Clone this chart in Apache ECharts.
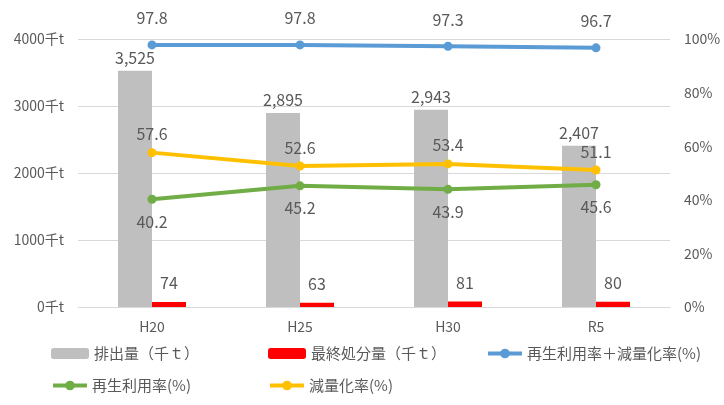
<!DOCTYPE html>
<html><head><meta charset="utf-8">
<script src="https://cdn.jsdelivr.net/npm/echarts@6/dist/echarts.min.js"></script>
<style>html,body{margin:0;padding:0;background:#fff}#c{width:724px;height:405px}</style>
</head><body><div id="c"></div>
<script>
const categories = ['H20', 'H25', 'H30', 'R5'];
const emissions = [3525, 2895, 2943, 2407];
const finalDisposal = [74, 63, 81, 80];
const recycleReduceRate = [97.8, 97.8, 97.3, 96.7];
const recycleRate = [40.2, 45.2, 43.9, 45.6];
const reduceRate = [57.6, 52.6, 53.4, 51.1];
const leftTicks = [0, 1000, 2000, 3000, 4000];
const rightTicks = [0, 20, 40, 60, 80, 100];

const FONT = "'Liberation Sans Narrow', 'Noto Sans CJK JP', sans-serif";
const TXT = '#595959';
const names = ['排出量（千ｔ）', '最終処分量（千ｔ）', '再生利用率＋減量化率(%)', '再生利用率(%)', '減量化率(%)'];
const lbl = (extra) => Object.assign({show: true, color: TXT, fontSize: 16, fontFamily: FONT}, extra);

const chart = echarts.init(document.getElementById('c'));
const legendPos = [[46, 341], [263, 341], [481, 341], [46, 373], [263, 373]];
chart.setOption({
  animation: false,
  grid: {left: 78, right: 54, top: 39, bottom: 98},
  legend: names.map((n, i) => ({
    data: [n], left: legendPos[i][0], top: legendPos[i][1],
    itemWidth: i < 2 ? 38 : 34, itemHeight: i < 2 ? 11 : 12, itemGap: 4,
    lineStyle: {width: 4},
    textStyle: {color: TXT, fontSize: 15, fontFamily: "'Noto Sans CJK JP', sans-serif"}
  })),
  xAxis: {
    type: 'category', data: categories,
    axisLine: {lineStyle: {color: '#d9d9d9'}}, axisTick: {show: false},
    axisLabel: {color: TXT, fontSize: 14, fontFamily: FONT, margin: 13}
  },
  yAxis: [
    {type: 'value', min: 0, max: 4000, interval: 1000,
     axisLabel: {formatter: v => v + '千t', color: TXT, fontSize: 14, fontFamily: FONT, margin: 14},
     splitLine: {lineStyle: {color: '#d9d9d9'}}, axisLine: {show: false}},
    {type: 'value', min: 0, max: 100, interval: 20,
     axisLabel: {formatter: v => v + '%', color: TXT, fontSize: 14, fontFamily: FONT, margin: 14},
     splitLine: {show: false}, axisLine: {show: false}}
  ],
  series: [
    {name: names[0], type: 'bar', data: emissions, barWidth: 34, barGap: '0%',
     itemStyle: {color: '#bfbfbf'},
     label: lbl({position: 'top', distance: 5, formatter: p => p.value.toLocaleString('en-US')})},
    {name: names[1], type: 'bar', data: finalDisposal, barWidth: 34,
     itemStyle: {color: '#ff0000'},
     label: lbl({position: 'top', distance: 11})},
    {name: names[2], type: 'line', yAxisIndex: 1, data: recycleReduceRate,
     symbol: 'circle', symbolSize: 9, lineStyle: {width: 4, color: '#5b9bd5'}, itemStyle: {color: '#5b9bd5'},
     label: lbl({position: 'top', distance: 14, formatter: p => p.value.toFixed(1)}), z: 5},
    {name: names[3], type: 'line', yAxisIndex: 1, data: recycleRate,
     symbol: 'circle', symbolSize: 9, lineStyle: {width: 4, color: '#70ad47'}, itemStyle: {color: '#70ad47'},
     label: lbl({position: 'bottom', distance: 10, formatter: p => p.value.toFixed(1)}), z: 5},
    {name: names[4], type: 'line', yAxisIndex: 1, data: reduceRate,
     symbol: 'circle', symbolSize: 9, lineStyle: {width: 4, color: '#ffc000'}, itemStyle: {color: '#ffc000'},
     label: lbl({position: 'top', distance: 6, formatter: p => p.value.toFixed(1)}), z: 5}
  ]
});
</script></body></html>
